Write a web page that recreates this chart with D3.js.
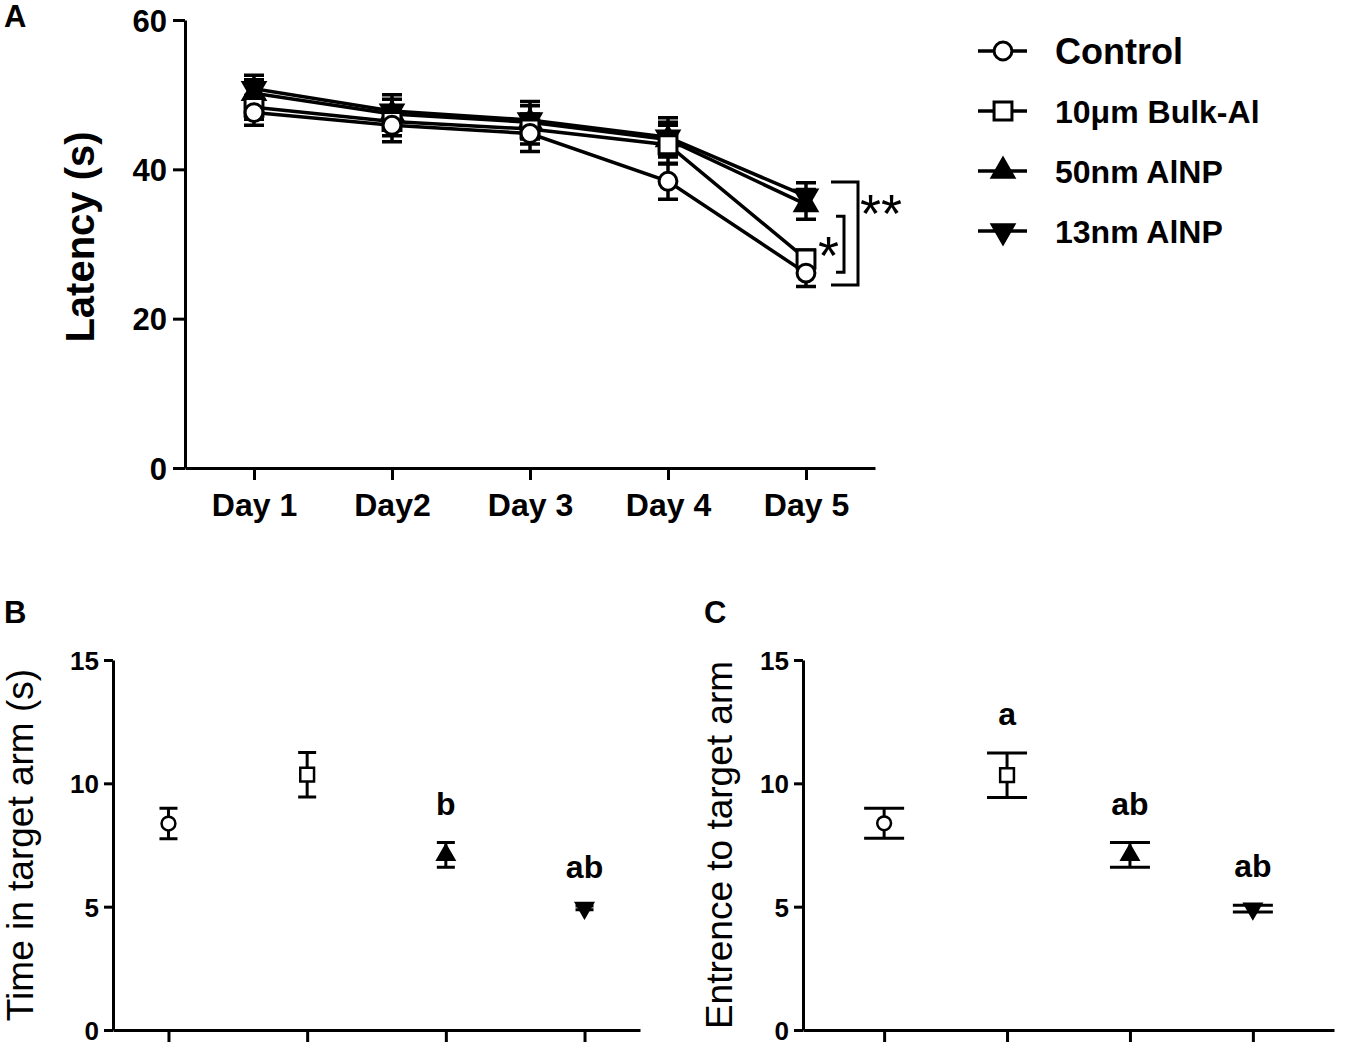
<!DOCTYPE html>
<html>
<head>
<meta charset="utf-8">
<script src="https://cdn.jsdelivr.net/npm/d3@7"></script>
<style>
  body { margin: 0; background: #fff; }
  svg { display: block; font-family: "Liberation Sans", Arial, sans-serif; }
</style>
</head>
<body>
<div id="chart"></div>
<script>
/**
 * DATA
 * */
const days = ["Day 1", "Day2", "Day 3", "Day 4", "Day 5"];
const groups = ["Control", "10μm Bulk-Al", "50nm AlNP", "13nm AlNP"];

// panel A: latency (s), mean and SEM per day
const controlLatency = [47.6, 45.9, 44.8, 38.4, 26.1];
const controlLatencyErr = [1.7, 2.2, 2.4, 2.4, 1.8];
const bulkLatency = [48.3, 46.4, 45.4, 43.3, 28.0];
const bulkLatencyErr = [1.6, 1.9, 2.0, 2.6, 1.2];
const np50Latency = [50.2, 47.4, 46.3, 44.0, 35.3];
const np50LatencyErr = [1.8, 2.0, 2.2, 2.3, 2.0];
const np13Latency = [50.8, 47.8, 46.6, 44.3, 36.4];
const np13LatencyErr = [1.8, 2.2, 2.5, 2.6, 1.8];
const latencyTicks = [0, 20, 40, 60];

// significance brackets on Day 5
const sigLabels = ["**", "*"];
const sigTop = [38.3, 33.7];
const sigBottom = [24.5, 26.2];

// panel B: time in target arm (s)
const timeMean = [8.37, 10.35, 7.1, 4.95];
const timeErr = [0.62, 0.9, 0.5, 0.08];
const timeLetters = ["", "", "b", "ab"];

// panel C: entrence to target arm
const entryMean = [8.38, 10.33, 7.1, 4.92];
const entryErr = [0.61, 0.9, 0.5, 0.14];
const entryLetters = ["", "a", "ab", "ab"];
const armTicks = [0, 5, 10, 15];

/**
 * CONSTANTS
 * */
const width = 1350, height = 1046;
const fontFamily = '"Liberation Sans", Arial, sans-serif';
const symbols = [
  { type: d3.symbolCircle, fill: "#fff", rotate: 0 },
  { type: d3.symbolSquare, fill: "#fff", rotate: 0 },
  { type: d3.symbolTriangle, fill: "#000", rotate: 0 },
  { type: d3.symbolTriangle, fill: "#000", rotate: 180 }
];
const bigSizes = [250, 320, 200, 200];
const smallSizes = [150, 190, 120, 120];

const svg = d3.select("#chart")
  .append("svg")
  .attr("width", width)
  .attr("height", height);

function marker(g, i, x, y, sizes, sw) {
  g.append("path")
    .attr("d", d3.symbol().type(symbols[i].type).size(sizes[i])())
    .attr("transform", `translate(${x},${y}) rotate(${symbols[i].rotate})`)
    .attr("fill", symbols[i].fill)
    .attr("stroke", "#000")
    .attr("stroke-width", sw);
}

function styleAxis(g, size, weight) {
  g.select(".domain").attr("stroke", "#000").attr("stroke-width", 3);
  g.selectAll(".tick line").attr("stroke", "#000").attr("stroke-width", 3);
  g.selectAll(".tick text")
    .attr("fill", "#000")
    .attr("font-family", fontFamily)
    .attr("font-size", size)
    .attr("font-weight", weight);
}

/**
 * PANEL A
 * */
function initLatency() {
  const means = [controlLatency, bulkLatency, np50Latency, np13Latency];
  const errs = [controlLatencyErr, bulkLatencyErr, np50LatencyErr, np13LatencyErr];

  const x = d3.scalePoint().domain(days).range([185, 875]).padding(0.5);
  const y = d3.scaleLinear().domain([0, 60]).range([468, 20]);

  svg.append("g")
    .attr("transform", "translate(0,468)")
    .call(d3.axisBottom(x).tickSize(12).tickSizeOuter(0).tickPadding(13))
    .call(g => styleAxis(g, 32, "bold"));

  svg.append("g")
    .attr("transform", "translate(185,0)")
    .call(d3.axisLeft(y).tickValues(latencyTicks).tickSize(12).tickSizeOuter(0).tickPadding(6))
    .call(g => styleAxis(g, 31, "bold"))
    .call(g => g.selectAll(".tick text").attr("dy", "0.36em"));

  svg.append("text")
    .attr("transform", "translate(94,237) rotate(-90)")
    .attr("text-anchor", "middle")
    .attr("font-size", 40)
    .attr("font-weight", "bold")
    .text("Latency (s)");

  const line = d3.line().x((d, i) => x(days[i])).y(d => y(d));
  const plot = svg.append("g");

  // draw last series first so Control ends on top
  for (let s = 3; s >= 0; s--) {
    plot.append("path")
      .datum(means[s])
      .attr("d", line)
      .attr("fill", "none")
      .attr("stroke", "#000")
      .attr("stroke-width", 3.5);
  }
  for (let s = 3; s >= 0; s--) {
    const g = plot.append("g");
    means[s].forEach((m, i) => {
      const cx = x(days[i]);
      const y1 = y(m + errs[s][i]), y0 = y(m - errs[s][i]);
      g.append("path")
        .attr("d", `M${cx},${y1}V${y0}M${cx - 10},${y1}H${cx + 10}M${cx - 10},${y0}H${cx + 10}`)
        .attr("stroke", "#000")
        .attr("stroke-width", 3.5)
        .attr("fill", "none");
    });
  }
  for (let s = 3; s >= 0; s--) {
    means[s].forEach((m, i) => marker(plot, s, x(days[i]), y(m), bigSizes, 3));
  }

  // significance brackets
  const bx = [858, 844], bl = [831, 836];
  sigLabels.forEach((lab, i) => {
    svg.append("path")
      .attr("d", `M${bl[i]},${y(sigTop[i])}H${bx[i]}V${y(sigBottom[i])}H${bl[i]}`)
      .attr("fill", "none")
      .attr("stroke", "#000")
      .attr("stroke-width", 3);
  });
  svg.append("text")
    .attr("x", 860).attr("y", 232)
    .attr("font-size", 54)
    .text(sigLabels[0]);
  svg.append("text")
    .attr("x", 839).attr("y", 274)
    .attr("text-anchor", "end")
    .attr("font-size", 54)
    .text(sigLabels[1]);

  // legend
  const legend = svg.append("g");
  groups.forEach((name, i) => {
    const ly = 51 + i * 60;
    legend.append("line")
      .attr("x1", 978).attr("x2", 1027).attr("y1", ly).attr("y2", ly)
      .attr("stroke", "#000").attr("stroke-width", 3.5);
    marker(legend, i, 1003, ly, bigSizes, 3);
    legend.append("text")
      .attr("x", 1055)
      .attr("y", ly + (i === 0 ? 13 : 12))
      .attr("font-size", i === 0 ? 36 : 32)
      .attr("font-weight", "bold")
      .text(name);
  });

  svg.append("text")
    .attr("x", 4).attr("y", 27)
    .attr("font-size", 31)
    .attr("font-weight", "bold")
    .text("A");
}

/**
 * PANELS B AND C
 * */
function initArm(left, right, padding, means, errs, letters, capHalf, label, labelX, panel, panelX) {
  const x = d3.scalePoint().domain(groups).range([left, right]).padding(padding);
  const y = d3.scaleLinear().domain([0, 15]).range([1030, 660]);

  svg.append("g")
    .attr("transform", "translate(0,1030)")
    .call(d3.axisBottom(x).tickSize(12).tickSizeOuter(0).tickFormat(""))
    .call(g => styleAxis(g, 26, "bold"));

  svg.append("g")
    .attr("transform", `translate(${left},0)`)
    .call(d3.axisLeft(y).tickValues(armTicks).tickSize(9).tickSizeOuter(0).tickPadding(5))
    .call(g => styleAxis(g, 26, "bold"))
    .call(g => g.selectAll(".tick text").attr("dy", "0.36em"));

  svg.append("text")
    .attr("transform", `translate(${labelX},845) rotate(-90)`)
    .attr("text-anchor", "middle")
    .attr("font-size", 37)
    .text(label);

  const plot = svg.append("g");
  means.forEach((m, i) => {
    const cx = x(groups[i]);
    const y1 = y(m + errs[i]), y0 = y(m - errs[i]);
    plot.append("path")
      .attr("d", `M${cx},${y1}V${y0}M${cx - capHalf},${y1}H${cx + capHalf}M${cx - capHalf},${y0}H${cx + capHalf}`)
      .attr("stroke", "#000")
      .attr("stroke-width", 3)
      .attr("fill", "none");
    marker(plot, i, cx, y(m), smallSizes, 2.5);
    if (letters[i]) {
      plot.append("text")
        .attr("x", cx)
        .attr("y", y1 - 28)
        .attr("text-anchor", "middle")
        .attr("font-size", 32)
        .attr("font-weight", "bold")
        .text(letters[i]);
    }
  });

  svg.append("text")
    .attr("x", panelX).attr("y", 623)
    .attr("font-size", 31)
    .attr("font-weight", "bold")
    .text(panel);
}

initLatency();
initArm(113, 640, 0.4, timeMean, timeErr, timeLetters, 9, "Time in target arm (s)", 33, "B", 4);
initArm(803, 1334, 0.66, entryMean, entryErr, entryLetters, 20, "Entrence to target arm", 732, "C", 704);
</script>
</body>
</html>
